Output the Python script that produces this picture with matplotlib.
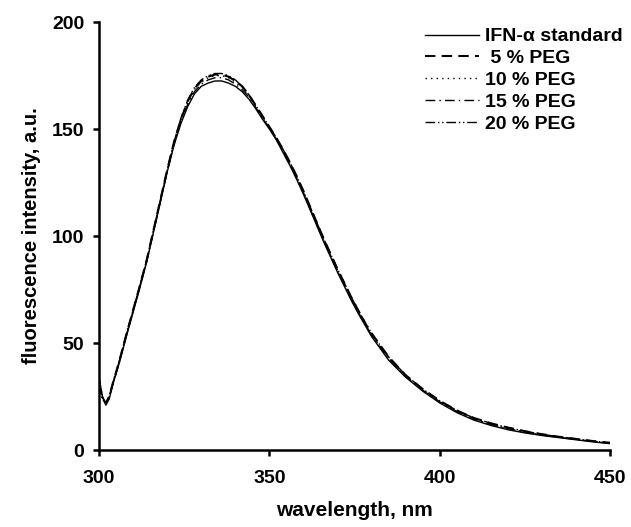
import matplotlib
matplotlib.use("Agg")
import matplotlib.pyplot as plt

# emission wavelengths (nm)
wavelength = [300, 301, 302, 303, 304, 306, 308, 310, 312, 314, 316, 318, 320,
              322, 324, 326, 328, 330, 332, 334, 336, 338, 340, 342, 344, 346,
              348, 350, 352, 354, 356, 358, 360, 362, 364, 366, 368, 370, 372,
              374, 376, 378, 380, 385, 390, 395, 400, 405, 410, 415, 420, 425,
              430, 435, 440, 445, 450]

ifn_standard = [33, 25, 21, 24, 30.5, 41, 53, 64.5, 76, 88, 102, 116, 130,
                142.5, 152.5, 160.5, 166.5, 170, 171.5, 172.5, 172.5, 171.5, 170,
                167.5, 164, 159.5, 154.5, 150, 145, 139, 133, 126.5, 119.5, 112,
                104.5, 97, 90, 83, 76.5, 70, 64, 58.5, 53, 42, 34, 27.5, 22,
                17.5, 14, 11.5, 9.5, 8, 6.8, 5.8, 4.8, 3.8, 3]
peg_5 = [31, 24, 22, 25, 31, 42, 54, 65.5, 77, 89, 103, 117, 131,
         144, 154.5, 163, 169, 172.5, 174.5, 175.5, 175.5, 174.5, 172.5,
         170, 166, 161, 156, 151, 146, 140.5, 134.5, 128, 121, 113.5,
         106, 98.5, 91.5, 84.5, 78, 71.5, 65.5, 59.5, 54.5, 43.5, 35, 28.5, 23,
         18.5, 15, 12.5, 10.5, 8.8, 7.4, 6.2, 5.2, 4.2, 3.4]
peg_10 = [30, 23, 22.5, 25.5, 31.5, 42, 54, 65, 77, 89, 102.5, 116.5, 130.5,
          143.5, 154, 162.5, 168.5, 172, 174, 175, 175, 174, 172,
          169.5, 165.5, 160.5, 155.5, 150.5, 145.5, 140, 134, 127.5, 120.5, 113,
          105.5, 98, 91, 84, 77.5, 71, 65, 59, 54, 43, 34.5, 28, 22.5,
          18, 14.5, 12, 10, 8.5, 7, 6, 5, 4, 3.2]
peg_15 = [34, 25, 21.5, 24.5, 30.5, 41.5, 53.5, 65, 76.5, 88.5, 102, 116, 130,
          143, 153.5, 161.5, 167.5, 171, 173, 174, 174, 173, 171,
          168.5, 165, 160, 155, 150.5, 145.5, 139.5, 133.5, 127, 120, 112.5,
          105, 97.5, 90.5, 83.5, 77, 70.5, 64.5, 59, 53.5, 42.5, 34.5, 28, 22.5,
          18, 14.5, 12, 10, 8.3, 7, 5.9, 5, 4, 3.2]
peg_20 = [32, 24.5, 22, 25, 31, 42, 54, 65.5, 77, 89, 103, 117, 131,
          144, 155, 163.5, 169.5, 173, 175, 176, 176, 175, 173,
          170, 166, 161, 156, 151, 146, 140.5, 134.5, 128, 121, 113.5,
          106, 98.5, 91.5, 84.5, 78, 71.5, 65.5, 60, 54.5, 43.5, 35, 28.5, 23,
          18.5, 15, 12.5, 10.5, 8.8, 7.4, 6.2, 5.2, 4.2, 3.4]

series = [
    ("IFN-\u03b1 standard", ifn_standard, "-"),
    (" 5 % PEG", peg_5, (0, (5, 3))),
    ("10 % PEG", peg_10, (0, (1, 3))),
    ("15 % PEG", peg_15, (0, (7, 3, 1, 3))),
    ("20 % PEG", peg_20, (0, (7, 2, 1, 2, 1, 2))),
]

plt.rcParams["font.family"] = ["Liberation Sans", "DejaVu Sans"]
plt.rcParams["font.weight"] = "bold"

fig = plt.figure(figsize=(6.31, 5.27), dpi=100)
ax = fig.add_axes([0.157, 0.146, 0.810, 0.812])

for label, values, style in series:
    lw = 1.5 if style == (0, (5, 3)) else 1.0
    ax.plot(wavelength, values, color="black", linestyle=style, linewidth=lw, label=label)

ax.set_xlim(300, 450)
ax.set_ylim(0, 200)
ax.set_xticks([300, 350, 400, 450])
ax.set_yticks([0, 50, 100, 150, 200])

for side in ("top", "right"):
    ax.spines[side].set_visible(False)
for side in ("left", "bottom"):
    ax.spines[side].set_linewidth(1.8)
ax.tick_params(direction="out", length=4.5, width=1.8, labelsize=14)
ax.tick_params(axis="x", pad=10)
ax.tick_params(axis="y", pad=6)
for lbl in ax.get_xticklabels() + ax.get_yticklabels():
    lbl.set_fontweight("bold")

ax.set_xlabel("wavelength, nm", fontsize=15, fontweight="bold", labelpad=10)
ax.set_ylabel("fluorescence intensity, a.u.", fontsize=14.5, fontweight="bold", labelpad=8)

leg = ax.legend(loc="upper left", bbox_to_anchor=(0.622, 1.005), frameon=False,
                handlelength=2.8, handletextpad=0.3, labelspacing=0.22,
                borderaxespad=0, prop={"size": 14, "weight": "bold"})

fig.savefig("out.png", dpi=100)
